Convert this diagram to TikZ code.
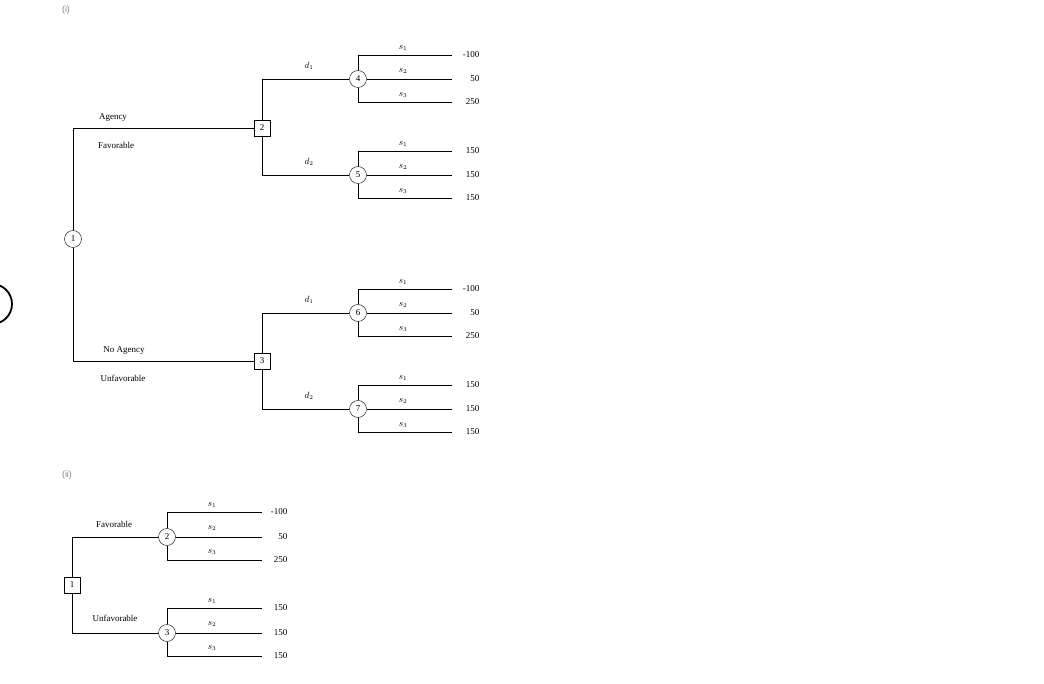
\documentclass[tikz,border=0pt]{standalone}
\usepackage{fontspec}
\setmainfont{Liberation Serif}
\newfontfamily\lblfont{Liberation Sans}
\begin{document}
\begin{tikzpicture}[x=1pt,y=-1pt,
  chance/.style={draw,circle,inner sep=0pt,minimum size=17pt,font=\fontsize{9}{9}\selectfont},
  dec/.style={draw,rectangle,inner sep=0pt,minimum size=16pt,font=\fontsize{9}{9}\selectfont},
  lbl/.style={font=\fontsize{9}{9}\selectfont},
  pay/.style={font=\fontsize{9}{9}\selectfont,anchor=east},
  sec/.style={font=\lblfont\fontsize{9}{9}\selectfont,text=gray}]
\useasboundingbox (0,0) rectangle (1044,684);
\begin{scope}
\clip (0,0) rectangle (1044,684);
\draw[line width=1.8pt] (-8,304) circle (20);
\end{scope}
\node[sec] (ti) at (66,10) {(i)};
\node[sec] (tii) at (67,475) {(ii)};
% part (i)
\node[chance] (n1) at (73,239) {1};
\node[dec] (n2) at (262,128) {2};
\node[dec] (n3) at (262,361) {3};
\draw (n1) |- (n2);
\draw (n1) |- (n3);
\node[lbl] (la) at (113,118) {Agency};
\node[lbl] (lf) at (116,145) {Favorable};
\node[lbl] (lna) at (124,351) {No Agency};
\node[lbl] (lu) at (123,378) {Unfavorable};
\foreach \n/\y/\d/\k in {4/79/1/2,5/175/2/2,6/313/1/3,7/409/2/3}{
  \node[chance] (c\n) at (358,\y) {\n};
  \draw (n\k) |- (c\n);
  \node[lbl] (dl\n) at (309,\y-13) {$d_{\d}$};
}
\foreach \n/\pa/\pb/\pc in {4/-100/50/250,5/150/150/150,6/-100/50/250,7/150/150/150}{
  \coordinate (e\n a) at (452,{\n==4?55:(\n==5?151:(\n==6?289:385))});
}
\foreach \n/\y/\pa/\pb/\pc in {4/79/-100/50/250,5/175/150/150/150,6/313/-100/50/250,7/409/150/150/150}{
  \coordinate (e\n a) at (452,\y-24);
  \coordinate (e\n b) at (452,\y);
  \coordinate (e\n c) at (452,\y+23);
  \draw (c\n) |- (e\n a);
  \draw (c\n) -- (e\n b);
  \draw (c\n) |- (e\n c);
  \node[lbl] (s\n a) at (403,\y-31) {$s_1$};
  \node[lbl] (s\n b) at (403,\y-8) {$s_2$};
  \node[lbl] (s\n c) at (403,\y+16) {$s_3$};
  \node[pay] (p\n a) at (483,\y-24) {\pa};
  \node[pay] (p\n b) at (483,\y) {\pb};
  \node[pay] (p\n c) at (483,\y+23) {\pc};
}
% part (ii)
\node[dec] (m1) at (72,585) {1};
\node[chance] (m2) at (167,537) {2};
\node[chance] (m3) at (167,633) {3};
\draw (m1) |- (m2);
\draw (m1) |- (m3);
\node[lbl] (mf) at (114,524) {Favorable};
\node[lbl] (mu) at (115,618) {Unfavorable};
\foreach \n/\y/\pa/\pb/\pc in {2/537/-100/50/250,3/633/150/150/150}{
  \coordinate (f\n a) at (262,\y-25);
  \coordinate (f\n b) at (262,\y);
  \coordinate (f\n c) at (262,\y+23);
  \draw (m\n) |- (f\n a);
  \draw (m\n) -- (f\n b);
  \draw (m\n) |- (f\n c);
  \node[lbl] (t\n a) at (212,\y-32) {$s_1$};
  \node[lbl] (t\n b) at (212,\y-9) {$s_2$};
  \node[lbl] (t\n c) at (212,\y+15) {$s_3$};
  \node[pay] (q\n a) at (291,\y-25) {\pa};
  \node[pay] (q\n b) at (291,\y) {\pb};
  \node[pay] (q\n c) at (291,\y+23) {\pc};
}
\end{tikzpicture}
\end{document}
